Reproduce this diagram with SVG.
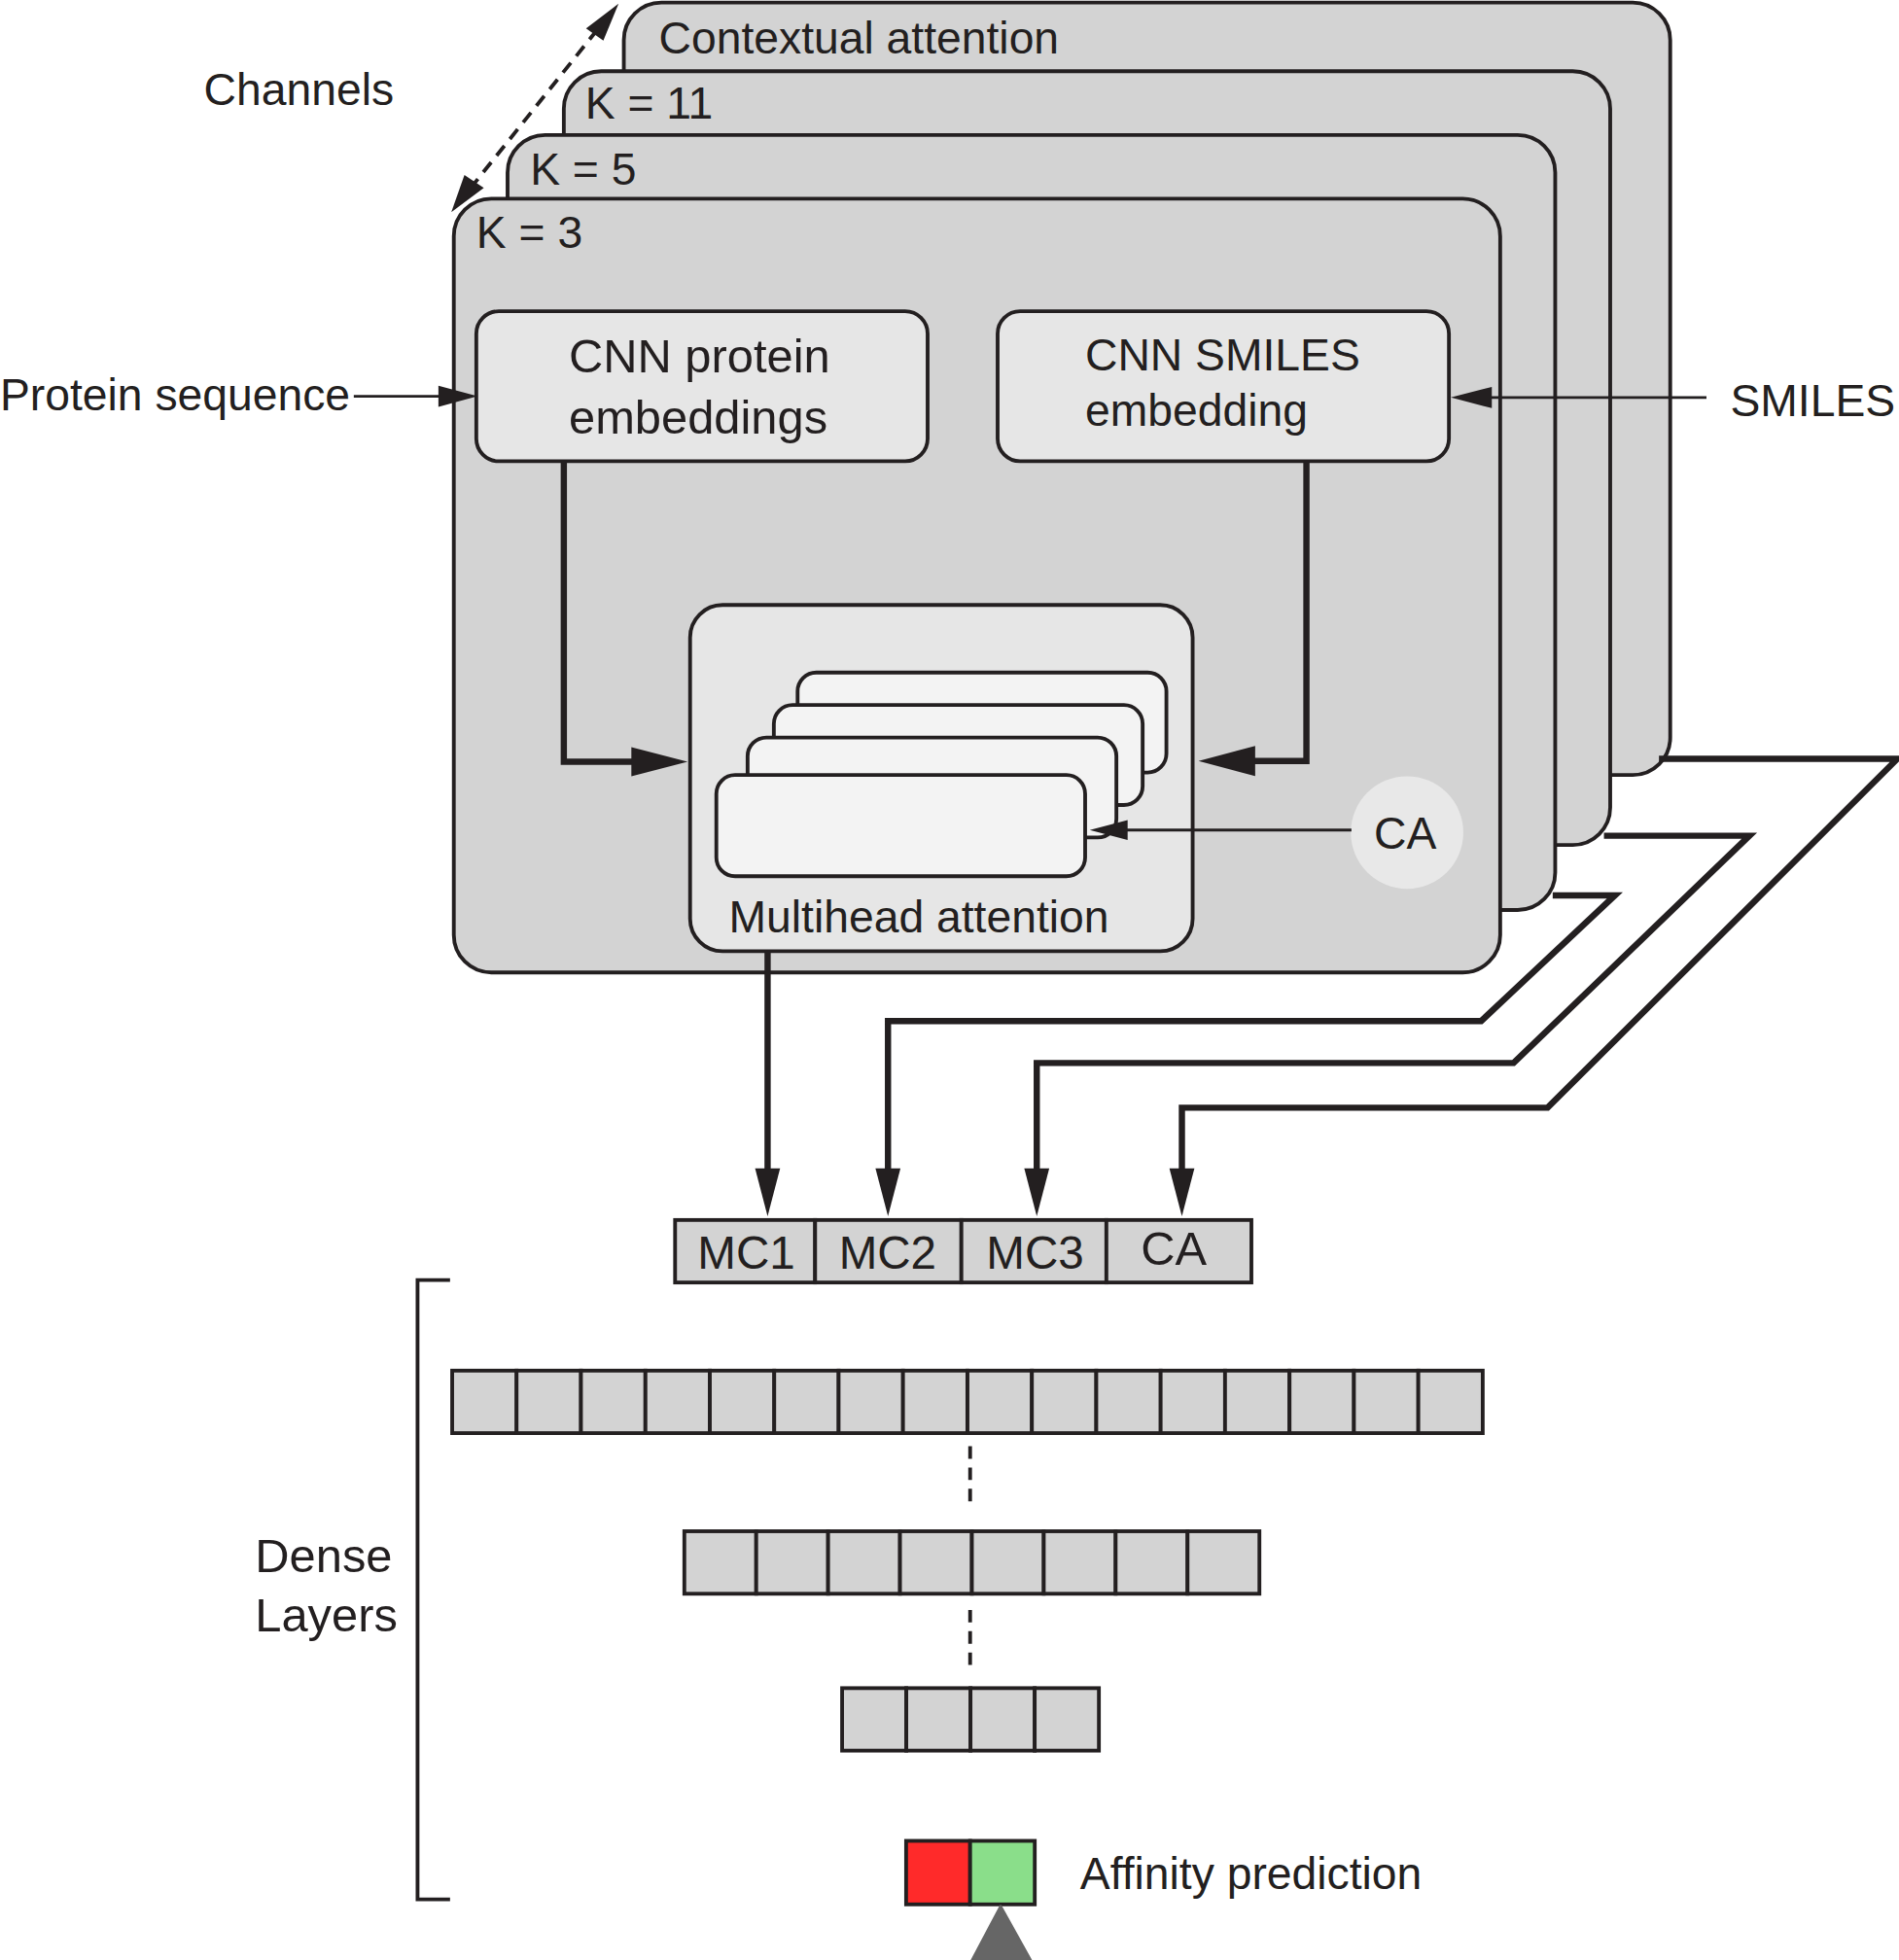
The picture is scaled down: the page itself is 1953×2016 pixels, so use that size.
<svg xmlns="http://www.w3.org/2000/svg" width="1953" height="2016" viewBox="0 0 1953 2016">
<style>
.panel{fill:#d3d3d3;stroke:#231f20;stroke-width:3}
.box{fill:#e6e6e6;stroke:#231f20;stroke-width:3}
.head{fill:#f3f3f3;stroke:#231f20;stroke-width:3}
.cell{fill:#d3d3d3;stroke:#231f20;stroke-width:3}
.t{font-family:"Liberation Sans",Arial,sans-serif;fill:#231f20}
.thick{fill:none;stroke:#231f20;stroke-width:5;stroke-linejoin:miter}
.thin{fill:none;stroke:#231f20;stroke-width:2.2}
.ah{fill:#231f20}
.dash{fill:none;stroke:#231f20;stroke-width:3;stroke-dasharray:10 7}
</style>
<rect width="1953" height="2016" fill="#ffffff"/>
<g transform="scale(1.285714)">
  <g id="panel-contextual">
    <rect class="panel" x="499" y="2" width="837" height="618" rx="30"/>
    <text class="t" x="527" y="43" font-size="36">Contextual attention</text>
  </g>
  <g id="panel-k11">
    <rect class="panel" x="451" y="57" width="837" height="619" rx="30"/>
    <text class="t" x="468" y="95" font-size="36">K = 11</text>
  </g>
  <g id="panel-k5">
    <rect class="panel" x="406" y="108" width="838" height="620" rx="30"/>
    <text class="t" x="424" y="148" font-size="36">K = 5</text>
  </g>
  <g id="panel-k3">
    <rect class="panel" x="363" y="159" width="837" height="619" rx="30"/>
    <text class="t" x="381" y="198" font-size="36">K = 3</text>
  </g>

  <g id="channels-label">
    <text class="t" x="163" y="84" font-size="36">Channels</text>
  </g>

  <g id="cnn-protein">
    <rect class="box" x="381" y="249" width="361" height="120" rx="18"/>
    <text class="t" x="455" y="298" font-size="38">CNN protein</text>
    <text class="t" x="455" y="347" font-size="38">embeddings</text>
  </g>
  <g id="cnn-smiles">
    <rect class="box" x="798" y="249" width="361" height="120" rx="18"/>
    <text class="t" x="868" y="296" font-size="36">CNN SMILES</text>
    <text class="t" x="868" y="341" font-size="36">embedding</text>
  </g>

  <g id="multihead">
    <rect class="box" x="552" y="484" width="402" height="277" rx="26"/>
    <rect class="head" x="638" y="538" width="295" height="80" rx="15"/>
    <rect class="head" x="619" y="564" width="295" height="80" rx="15"/>
    <rect class="head" x="598" y="590" width="295" height="80" rx="15"/>
    <rect class="head" x="573" y="620" width="295" height="81" rx="15"/>
    <text class="t" x="583" y="746" font-size="36">Multihead attention</text>
  </g>

  <g id="ca-circle">
    <circle cx="1125.5" cy="666" r="45" fill="#e8e8e8"/>
    <text class="t" x="1124" y="679" font-size="36" text-anchor="middle">CA</text>
  </g>

  <g id="protein-seq-label">
    <text class="t" x="0" y="328" font-size="36">Protein sequence</text>
  </g>
  <g id="smiles-label">
    <text class="t" x="1384" y="333" font-size="36">SMILES</text>
  </g>

  <g id="concat">
    <rect class="cell" x="540" y="976" width="112" height="50"/>
    <rect class="cell" x="652" y="976" width="117" height="50"/>
    <rect class="cell" x="769" y="976" width="116" height="50"/>
    <rect class="cell" x="885" y="976" width="116" height="50"/>
    <text class="t" x="597" y="1015" font-size="37" text-anchor="middle">MC1</text>
    <text class="t" x="710" y="1015" font-size="37" text-anchor="middle">MC2</text>
    <text class="t" x="828" y="1015" font-size="37" text-anchor="middle">MC3</text>
    <text class="t" x="939" y="1012" font-size="38" text-anchor="middle">CA</text>
  </g>

  <g id="dense-bracket">
    <path d="M360 1024 H334 V1519.5 H360" fill="none" stroke="#231f20" stroke-width="3"/>
    <text class="t" x="204" y="1258" font-size="38">Dense</text>
    <text class="t" x="204" y="1305" font-size="38">Layers</text>
  </g>

  <g id="dense-layer-1">
    <rect class="cell" x="361.7" y="1096.5" width="51.52" height="50"/>
    <rect class="cell" x="413.2" y="1096.5" width="51.52" height="50"/>
    <rect class="cell" x="464.7" y="1096.5" width="51.52" height="50"/>
    <rect class="cell" x="516.3" y="1096.5" width="51.52" height="50"/>
    <rect class="cell" x="567.8" y="1096.5" width="51.52" height="50"/>
    <rect class="cell" x="619.3" y="1096.5" width="51.52" height="50"/>
    <rect class="cell" x="670.8" y="1096.5" width="51.52" height="50"/>
    <rect class="cell" x="722.3" y="1096.5" width="51.52" height="50"/>
    <rect class="cell" x="773.9" y="1096.5" width="51.52" height="50"/>
    <rect class="cell" x="825.4" y="1096.5" width="51.52" height="50"/>
    <rect class="cell" x="876.9" y="1096.5" width="51.52" height="50"/>
    <rect class="cell" x="928.4" y="1096.5" width="51.52" height="50"/>
    <rect class="cell" x="979.9" y="1096.5" width="51.52" height="50"/>
    <rect class="cell" x="1031.5" y="1096.5" width="51.52" height="50"/>
    <rect class="cell" x="1083.0" y="1096.5" width="51.52" height="50"/>
    <rect class="cell" x="1134.5" y="1096.5" width="51.52" height="50"/>
  </g>
  <g id="dense-layer-2">
    <rect class="cell" x="547.4" y="1225" width="57.5" height="50"/>
    <rect class="cell" x="604.9" y="1225" width="57.5" height="50"/>
    <rect class="cell" x="662.4" y="1225" width="57.5" height="50"/>
    <rect class="cell" x="719.9" y="1225" width="57.5" height="50"/>
    <rect class="cell" x="777.4" y="1225" width="57.5" height="50"/>
    <rect class="cell" x="834.9" y="1225" width="57.5" height="50"/>
    <rect class="cell" x="892.4" y="1225" width="57.5" height="50"/>
    <rect class="cell" x="949.9" y="1225" width="57.5" height="50"/>
  </g>
  <g id="dense-layer-3">
    <rect class="cell" x="673.6" y="1350.5" width="51.35" height="50"/>
    <rect class="cell" x="724.95" y="1350.5" width="51.35" height="50"/>
    <rect class="cell" x="776.3" y="1350.5" width="51.35" height="50"/>
    <rect class="cell" x="827.65" y="1350.5" width="51.35" height="50"/>
  </g>

  <g id="affinity">
    <rect x="724.8" y="1472.7" width="51.2" height="50.8" fill="#ff2a2a" stroke="#231f20" stroke-width="3"/>
    <rect x="776" y="1472.7" width="51.7" height="50.8" fill="#8ade8a" stroke="#231f20" stroke-width="3"/>
    <path d="M800.4 1525 L776.5 1570 L825.5 1570 Z" fill="#666666" stroke="#666666" stroke-width="2" stroke-linejoin="round"/>
    <text class="t" x="864" y="1511" font-size="36">Affinity prediction</text>
  </g>

  <g id="connectors">
    <!-- channels dashed double arrow -->
    <line class="dash" x1="376" y1="151" x2="480" y2="21"/>
    <polygon class="ah" points="494.8,3 482.6,32.4 468.8,22.8"/>
    <polygon class="ah" points="361,169.8 371.5,140 387,150.4"/>
    <!-- protein sequence input -->
    <line class="thin" x1="283" y1="317" x2="352" y2="317"/>
    <polygon class="ah" points="382,317 350.7,308.5 350.7,325.5"/>
    <!-- SMILES input -->
    <line class="thin" x1="1365" y1="318" x2="1192" y2="318"/>
    <polygon class="ah" points="1160.5,318 1193.3,309.5 1193.3,326.5"/>
    <!-- protein embedding to multihead -->
    <path class="thick" d="M451 369 V609.4 H508"/>
    <polygon class="ah" points="550,609.4 505,597.7 505,621.1"/>
    <!-- smiles embedding to multihead -->
    <path class="thick" d="M1045 369 V608.8 H1002"/>
    <polygon class="ah" points="958.7,608.8 1004,596.8 1004,620.8"/>
    <!-- CA to multihead -->
    <line class="thin" x1="1081" y1="664" x2="900" y2="664"/>
    <polygon class="ah" points="871.7,664 902,656 902,672"/>
    <!-- multihead to MC1 -->
    <path class="thick" d="M614 761 V936"/>
    <polygon class="ah" points="614,973 604,934.7 624,934.7"/>
    <!-- K=5 channel to MC2 -->
    <path class="thick" d="M1242 716.3 H1291.8 L1184.8 816.8 H710.3 V936"/>
    <polygon class="ah" points="710.3,973 700.3,934.7 720.3,934.7"/>
    <!-- K=11 channel to MC3 -->
    <path class="thick" d="M1283 668.6 H1399.3 L1210.7 850.4 H829.3 V936"/>
    <polygon class="ah" points="829.3,973 819.3,934.7 839.3,934.7"/>
    <!-- contextual attention channel to CA -->
    <path class="thick" d="M1327 607 H1517.7 L1237.9 886.2 H945.4 V936"/>
    <polygon class="ah" points="945.4,973 935.4,934.7 955.4,934.7"/>
    <!-- dotted continuation between dense layers -->
    <line class="dash" x1="776" y1="1157" x2="776" y2="1208" stroke-dasharray="10 6"/>
    <line class="dash" x1="776" y1="1288" x2="776" y2="1338" stroke-dasharray="10 6"/>
  </g>
</g>
</svg>
